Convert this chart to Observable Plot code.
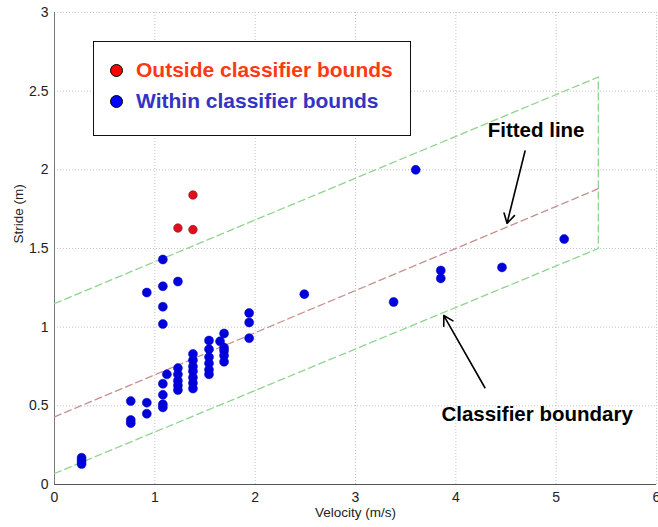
<!DOCTYPE html>
<html>
<head>
<meta charset="utf-8">
<script src="https://cdn.jsdelivr.net/npm/d3@7"></script>
<script src="https://cdn.jsdelivr.net/npm/@observablehq/plot@0.6"></script>
<style>
  html, body { margin: 0; padding: 0; background: #fff; }
  #wrap { position: relative; width: 658px; height: 527px; overflow: hidden; }
  #legend { position: absolute; left: 93px; top: 41px; width: 316px; height: 93px;
    border: 1.5px solid #111; background: #fff; font-family: "Liberation Sans", Arial, sans-serif;
    font-weight: bold; font-size: 21px; }
  .row { position: absolute; left: 0; display: flex; align-items: center; white-space: nowrap; }
  .dot { width: 11px; height: 11px; border-radius: 50%; border: 1px solid #000; margin-left: 16px; margin-right: 13px; }
</style>
</head>
<body>
<div id="wrap"></div>
<script>
// ---- data ----
const blueX = [0.27,0.27,0.27, 0.76,0.76,0.76, 0.92,0.92,0.92,
  1.08,1.08,1.08,1.08,1.08,1.08,1.08,1.08, 1.12,
  1.23,1.23,1.23,1.23,1.23,1.23,
  1.38,1.38,1.38,1.38,1.38,1.38,1.38,
  1.54,1.54,1.54,1.54,1.54,1.54, 1.65,
  1.69,1.69,1.69,1.69,1.69,
  1.94,1.94,1.94, 2.49, 3.38, 3.60, 3.85,3.85, 4.46, 5.08];
const blueY = [0.17,0.15,0.13, 0.53,0.41,0.39, 0.52,0.45,1.22,
  1.43,1.26,1.13,1.02,0.64,0.57,0.51,0.49, 0.70,
  1.29,0.74,0.70,0.66,0.63,0.60,
  0.83,0.79,0.75,0.72,0.68,0.645,0.61,
  0.915,0.86,0.81,0.77,0.73,0.70, 0.91,
  0.96,0.87,0.85,0.82,0.78,
  1.09,1.03,0.93, 1.21, 1.16, 2.00, 1.36,1.31, 1.38, 1.56];
const redX = [1.38, 1.23, 1.38];
const redY = [1.84, 1.63, 1.62];

const fitX = [0, 5.42];
const fitY = [0.43, 1.88];
const boundX = [0, 5.42, 5.42, 0];
const boundY = [0.07, 1.50, 2.59, 1.15];

const xTicks = [0,1,2,3,4,5,6];
const yTicks = [0,0.5,1,1.5,2,2.5,3];

const annoText = ["Fitted line", "Classifier boundary"];
const annoX = [4.80, 4.81];
const annoY = [2.21, 0.405];
const arrowX1 = [4.69, 4.29];
const arrowY1 = [2.12, 0.615];
const arrowX2 = [4.51, 3.88];
const arrowY2 = [1.66, 1.074];

const legendLabels = ["Outside classifier bounds", "Within classifier bounds"];
const legendColors = ["#ff0000", "#0000ff"];
const legendTextColors = ["#ff3a12", "#3434c4"];

// ---- build tables ----
const blue = blueX.map((x, i) => ({x, y: blueY[i]}));
const red = redX.map((x, i) => ({x, y: redY[i]}));
const fit = fitX.map((x, i) => ({x, y: fitY[i]}));
const bound = boundX.map((x, i) => ({x, y: boundY[i]}));
const anno = annoText.map((t, i) => ({t, x: annoX[i], y: annoY[i]}));
const arrows = arrowX1.map((x1, i) => ({x1, y1: arrowY1[i], x2: arrowX2[i], y2: arrowY2[i]}));

const font = "'Liberation Sans', Arial, sans-serif";

const plot = Plot.plot({
  width: 658, height: 527,
  marginLeft: 54, marginRight: 2, marginTop: 12, marginBottom: 43,
  x: {domain: [0, 6]},
  y: {domain: [0, 3]},
  style: {fontFamily: font, background: "#fff", overflow: "visible"},
  marks: [
    Plot.gridX(xTicks.filter(d => d > 0), {stroke: "#c4c4c4", strokeOpacity: 1, strokeDasharray: "1,2"}),
    Plot.gridY(yTicks.filter(d => d > 0), {stroke: "#c4c4c4", strokeOpacity: 1, strokeDasharray: "1,2"}),
    Plot.axisX({ticks: xTicks, tickSize: 0, tickPadding: 8, fontSize: 14, fill: "#222", label: null, tickFormat: d => `${d}`}),
    Plot.axisY({ticks: yTicks, tickSize: 0, tickPadding: 6, fontSize: 14, fill: "#222", label: null, tickFormat: d => `${d}`}),
    Plot.ruleX([0], {stroke: "#777", strokeWidth: 1}),
    Plot.ruleY([0], {stroke: "#555", strokeWidth: 1.2}),
    Plot.line(bound, {x: "x", y: "y", stroke: "#8fd48f", strokeWidth: 1.3, strokeDasharray: "7,4"}),
    Plot.line(fit, {x: "x", y: "y", stroke: "#c89090", strokeWidth: 1.3, strokeDasharray: "7,4"}),
    Plot.dot(blue, {x: "x", y: "y", r: 4.5, fill: "#0000dd", stroke: "#0000c0", strokeWidth: 0.5}),
    Plot.dot(red, {x: "x", y: "y", r: 4.3, fill: "#dd1020", stroke: "#901018", strokeWidth: 0.6}),
    Plot.arrow(arrows, {x1: "x1", y1: "y1", x2: "x2", y2: "y2", stroke: "#000", strokeWidth: 1.6, headLength: 10}),
    Plot.text(anno, {x: "x", y: "y", text: "t", fontSize: 20.5, fontWeight: "bold", fill: "#000", lineAnchor: "bottom", textAnchor: "middle"}),
    Plot.text(["Velocity (m/s)"], {frameAnchor: "bottom", dy: 32, fontSize: 13.5, fill: "#222"}),
    Plot.text(["Stride (m)"], {frameAnchor: "left", dx: -36, dy: -5, rotate: -90, fontSize: 13.5, fill: "#222"})
  ]
});

const wrap = document.getElementById("wrap");
wrap.appendChild(plot);

const legend = document.createElement("div");
legend.id = "legend";
legendLabels.forEach((lab, i) => {
  const row = document.createElement("div");
  row.className = "row";
  row.style.top = (i === 0 ? 16 : 47) + "px";
  const dot = document.createElement("span");
  dot.className = "dot";
  dot.style.background = legendColors[i];
  const txt = document.createElement("span");
  txt.textContent = lab;
  txt.style.color = legendTextColors[i];
  row.appendChild(dot);
  row.appendChild(txt);
  legend.appendChild(row);
});
wrap.appendChild(legend);
</script>
</body>
</html>
